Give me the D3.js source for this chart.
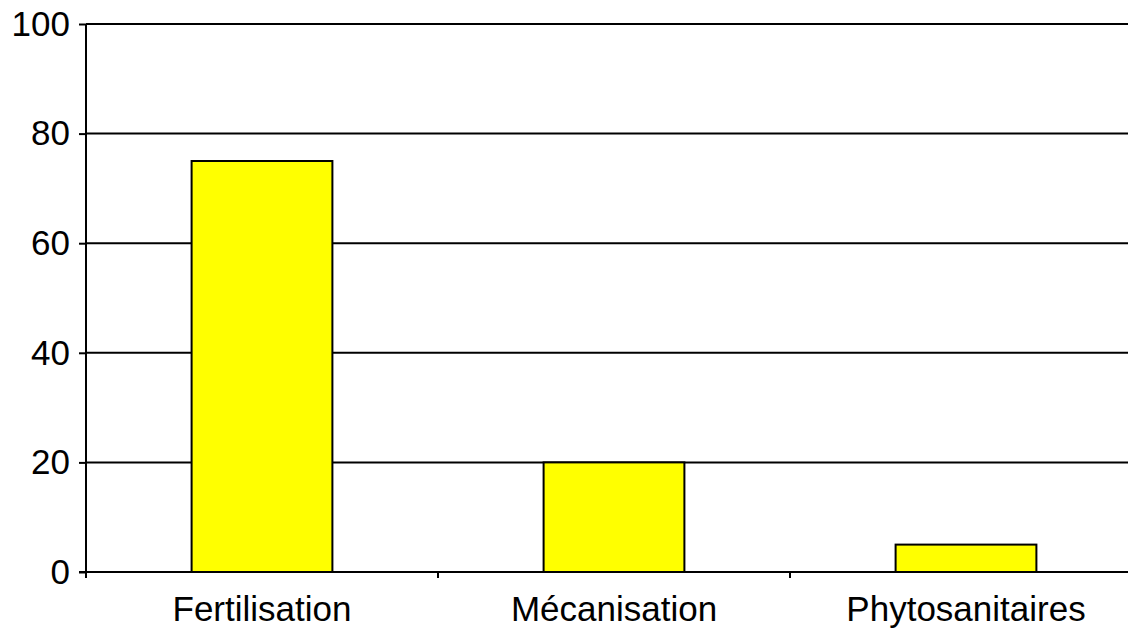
<!DOCTYPE html>
<html>
<head>
<meta charset="utf-8">
<script src="https://cdn.jsdelivr.net/npm/d3@7"></script>
<style>
  html, body { margin: 0; padding: 0; background: #fff; }
  svg { display: block; }
  text { font-family: "Liberation Sans", Arial, sans-serif; fill: #000; }
</style>
</head>
<body>
<svg id="chart" width="1128" height="629"></svg>
<script>
// Share of the total by input category
const categories = ["Fertilisation", "Mécanisation", "Phytosanitaires"];
const values = [75, 20, 5];
const yTicks = [0, 20, 40, 60, 80, 100];

const svg = d3.select("#chart");
const x0 = 86, x1 = 1142, yTop = 24, yBottom = 572;

const x = d3.scaleBand()
  .domain(categories)
  .range([x0, x1])
  .paddingInner(0.6)
  .paddingOuter(0.3);

const y = d3.scaleLinear().domain([0, 100]).range([yBottom, yTop]);

// horizontal gridlines
svg.append("g")
  .selectAll("line")
  .data(yTicks.filter(d => d > 0))
  .join("line")
  .attr("x1", x0).attr("x2", x1)
  .attr("y1", d => y(d)).attr("y2", d => y(d))
  .attr("stroke", "#000").attr("stroke-width", 2);

// bars
svg.append("g")
  .selectAll("rect")
  .data(values)
  .join("rect")
  .attr("x", (d, i) => x(categories[i]))
  .attr("y", d => y(d))
  .attr("width", x.bandwidth())
  .attr("height", d => y(0) - y(d))
  .attr("fill", "#ffff00")
  .attr("stroke", "#000")
  .attr("stroke-width", 2);

// y axis
const yAxis = svg.append("g").attr("transform", `translate(${x0},0)`)
  .call(d3.axisLeft(y).tickValues(yTicks).tickSize(7).tickPadding(9));
yAxis.select(".domain").remove();
yAxis.selectAll(".tick line").attr("stroke", "#000").attr("stroke-width", 2);
yAxis.selectAll(".tick text").attr("font-size", 35).attr("font-family", "'Liberation Sans', Arial, sans-serif");
svg.append("line")
  .attr("x1", x0).attr("x2", x0)
  .attr("y1", yTop).attr("y2", yBottom + 5)
  .attr("stroke", "#000").attr("stroke-width", 2);

// x axis baseline and category boundary ticks
svg.append("line")
  .attr("x1", x0 - 7).attr("x2", x1)
  .attr("y1", yBottom).attr("y2", yBottom)
  .attr("stroke", "#000").attr("stroke-width", 2);
const step = x.step();
svg.append("g")
  .selectAll("line")
  .data(d3.range(categories.length + 1))
  .join("line")
  .attr("x1", i => x0 + i * step).attr("x2", i => x0 + i * step)
  .attr("y1", yBottom).attr("y2", yBottom + 6)
  .attr("stroke", "#000").attr("stroke-width", 2);

// category labels
svg.append("g")
  .selectAll("text")
  .data(categories)
  .join("text")
  .attr("x", d => x(d) + x.bandwidth() / 2)
  .attr("y", 621)
  .attr("text-anchor", "middle")
  .attr("font-size", 35)
  .text(d => d);
</script>
</body>
</html>
